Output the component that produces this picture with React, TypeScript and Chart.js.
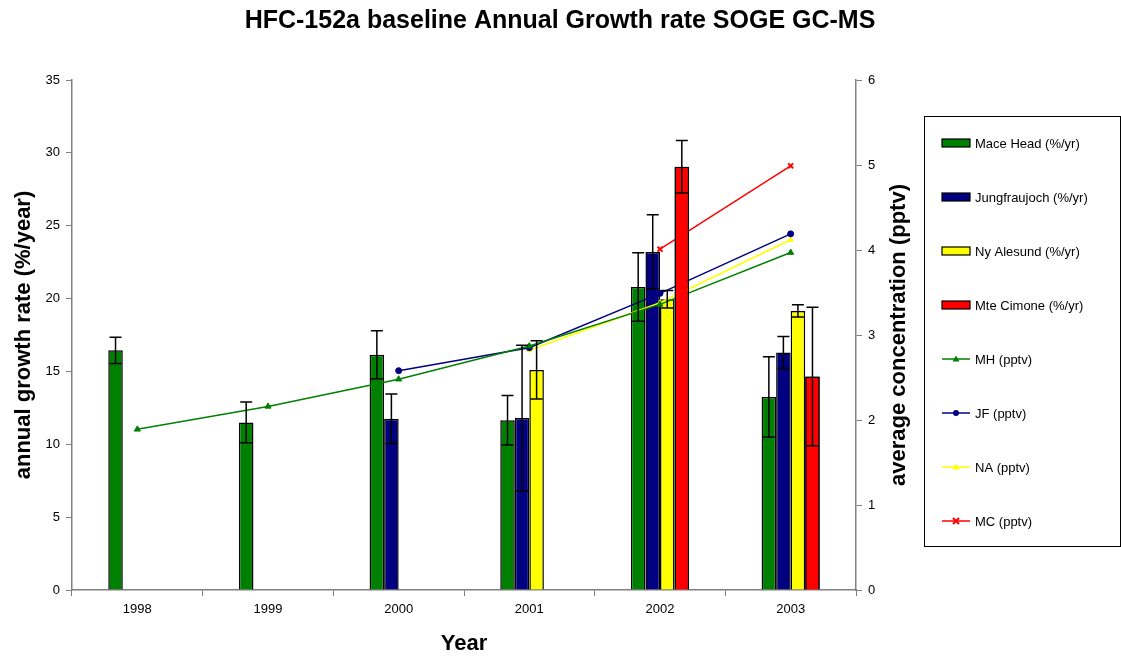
import React, { useEffect, useRef } from "react";
import { Chart, registerables } from "chart.js";

Chart.register(...registerables);

const years = ["1998", "1999", "2000", "2001", "2002", "2003"];

const maceHead = [16.45, 11.5, 16.15, 11.65, 20.8, 13.25];
const maceHeadErr = [0.9, 1.4, 1.65, 1.7, 2.35, 2.75];
const jungfraujoch = [null, null, 11.75, 11.8, 23.2, 16.3];
const jungfraujochErr = [null, null, 1.7, 5.0, 2.55, 1.1];
const nyAlesund = [null, null, null, 15.1, 19.95, 19.15];
const nyAlesundErr = [null, null, null, 2.0, 0.6, 0.42];
const mteCimone = [null, null, null, null, 29.05, 14.65];
const mteCimoneErr = [null, null, null, null, 1.8, 4.75];

const mhPptv = [1.89, 2.16, 2.48, 2.87, 3.36, 3.97];
const jfPptv = [null, null, 2.58, 2.85, 3.49, 4.19];
const naPptv = [null, null, null, 2.82, 3.38, 4.12];
const mcPptv = [null, null, null, null, 4.01, 4.99];

const errors = [maceHeadErr, jungfraujochErr, nyAlesundErr, mteCimoneErr];

const FONT = "'Liberation Sans', Arial, sans-serif";

const errorBarPlugin = {
  id: "errorBars",
  afterDatasetsDraw(chart: any) {
    const ctx = chart.ctx;
    const y = chart.scales.y;
    // Mte Cimone bars sit above the lines, as in the original
    const mcMeta = chart.getDatasetMeta(3);
    ctx.save();
    mcMeta.data.forEach((el: any, j: number) => {
      if (chart.data.datasets[3].data[j] != null) el.draw(ctx, chart.chartArea);
    });
    ctx.restore();
    ctx.save();
    ctx.strokeStyle = "#000";
    ctx.lineWidth = 1.5;
    errors.forEach((errs, di) => {
      const meta = chart.getDatasetMeta(di);
      const vals = chart.data.datasets[di].data;
      meta.data.forEach((el: any, j: number) => {
        const v = vals[j];
        const e = errs[j];
        if (v == null || e == null) return;
        const x = el.x;
        const yt = y.getPixelForValue(v + e);
        const yb = y.getPixelForValue(v - e);
        ctx.beginPath();
        ctx.moveTo(x, yt);
        ctx.lineTo(x, yb);
        ctx.moveTo(x - 6, yt);
        ctx.lineTo(x + 6, yt);
        ctx.moveTo(x - 6, yb);
        ctx.lineTo(x + 6, yb);
        ctx.stroke();
      });
    });
    ctx.restore();
  },
};

const textPlugin = {
  id: "texts",
  afterDraw(chart: any) {
    const ctx = chart.ctx;
    ctx.save();
    ctx.fillStyle = "#000";
    ctx.textAlign = "center";
    ctx.textBaseline = "middle";
    ctx.font = `bold 25px ${FONT}`;
    ctx.fillText("HFC-152a baseline Annual Growth rate SOGE GC-MS", 560, 21);
    ctx.font = `bold 22px ${FONT}`;
    ctx.fillText("Year", 464, 644);
    ctx.save();
    ctx.translate(24, 335);
    ctx.rotate(-Math.PI / 2);
    ctx.fillText("annual growth rate (%/year)", 0, 0);
    ctx.restore();
    ctx.save();
    ctx.translate(899, 335);
    ctx.rotate(-Math.PI / 2);
    ctx.fillText("average concentration (pptv)", 0, 0);
    ctx.restore();

    // legend
    const lx = 924.5, ly = 116.5, lw = 196, lh = 430;
    ctx.lineWidth = 1;
    ctx.strokeStyle = "#000";
    ctx.strokeRect(lx, ly, lw, lh);
    ctx.font = `13px ${FONT}`;
    ctx.textAlign = "left";
    chart.data.datasets.forEach((ds: any, i: number) => {
      const cy = 143 + i * 54;
      if (ds.type === "bar") {
        ctx.fillStyle = ds.backgroundColor;
        ctx.fillRect(942, cy - 4, 28, 8);
        ctx.lineWidth = 1.2;
        ctx.strokeStyle = "#000";
        ctx.strokeRect(942, cy - 4, 28, 8);
      } else {
        ctx.strokeStyle = ds.borderColor;
        ctx.lineWidth = 1.5;
        ctx.beginPath();
        ctx.moveTo(942, cy);
        ctx.lineTo(970, cy);
        ctx.stroke();
        ctx.fillStyle = ds.pointBackgroundColor;
        ctx.strokeStyle = ds.pointBorderColor;
        const st = ds.pointStyle;
        ctx.beginPath();
        if (st === "triangle") {
          ctx.moveTo(956, cy - 3.5);
          ctx.lineTo(959.5, cy + 2.5);
          ctx.lineTo(952.5, cy + 2.5);
          ctx.closePath();
          ctx.fill();
        } else if (st === "circle") {
          ctx.arc(956, cy, 3, 0, Math.PI * 2);
          ctx.fill();
        } else {
          ctx.lineWidth = 2;
          ctx.moveTo(953, cy - 3);
          ctx.lineTo(959, cy + 3);
          ctx.moveTo(959, cy - 3);
          ctx.lineTo(953, cy + 3);
          ctx.stroke();
        }
      }
      ctx.fillStyle = "#000";
      ctx.fillText(ds.label, 975, cy + 1);
    });
    ctx.restore();
  },
};

export default function App() {
  const ref = useRef<HTMLCanvasElement | null>(null);

  useEffect(() => {
    if (!ref.current) return;
    const bar = (label: string, data: any[], color: string) => ({
      type: "bar" as const,
      label,
      data,
      backgroundColor: color,
      borderColor: "#000",
      borderWidth: 1.5,
      yAxisID: "y",
      order: 2,
      categoryPercentage: 0.445,
      barPercentage: 1,
    });
    const line = (label: string, data: any[], color: string, style: string, r: number) => ({
      type: "line" as const,
      label,
      data,
      borderColor: color,
      backgroundColor: color,
      pointBackgroundColor: color,
      pointBorderColor: color,
      pointStyle: style,
      pointRadius: r,
      pointBorderWidth: style === "crossRot" ? 2 : 1,
      borderWidth: 1.5,
      yAxisID: "y1",
      order: 1,
    });
    const chart = new Chart(ref.current, {
      data: {
        labels: years,
        datasets: [
          bar("Mace Head (%/yr)", maceHead, "#008000"),
          bar("Jungfraujoch (%/yr)", jungfraujoch, "#000080"),
          bar("Ny Alesund (%/yr)", nyAlesund, "#FFFF00"),
          bar("Mte Cimone (%/yr)", mteCimone, "#FF0000"),
          line("MH (pptv)", mhPptv, "#008000", "triangle", 3.5),
          line("JF (pptv)", jfPptv, "#000080", "circle", 3),
          line("NA (pptv)", naPptv, "#FFFF00", "triangle", 3),
          line("MC (pptv)", mcPptv, "#FF0000", "crossRot", 3.5),
        ] as any,
      },
      options: {
        responsive: false,
        animation: false,
        layout: { padding: { left: 0, right: 0, top: 80, bottom: 0 } },
        plugins: {
          legend: { display: false },
          tooltip: { enabled: false },
          title: { display: false },
        },
        scales: {
          x: {
            offset: true,
            grid: { display: true, drawOnChartArea: false, offset: true, tickLength: 6, color: "#808080" },
            border: { color: "#808080", width: 1.5 },
            ticks: { color: "#000", font: { family: FONT, size: 13 }, padding: 6, maxRotation: 0 },
            afterFit: (s: any) => { s.height = 67; },
          },
          y: {
            position: "left",
            min: 0,
            max: 35,
            grid: { display: true, drawOnChartArea: false, tickLength: 6, color: "#808080" },
            border: { color: "#808080", width: 1.5 },
            ticks: { stepSize: 5, color: "#000", font: { family: FONT, size: 13 }, padding: 6 },
            afterFit: (s: any) => { s.width = 72; },
          },
          y1: {
            position: "right",
            min: 0,
            max: 6,
            grid: { display: true, drawOnChartArea: false, tickLength: 6, color: "#808080" },
            border: { color: "#808080", width: 1.5 },
            ticks: { stepSize: 1, color: "#000", font: { family: FONT, size: 13 }, padding: 6 },
            afterFit: (s: any) => { s.width = 265; },
          },
        },
      } as any,
      plugins: [errorBarPlugin, textPlugin],
    });
    return () => chart.destroy();
  }, []);

  return (
    <div style={{ position: "absolute", left: 0, top: 0, width: 1121, height: 657, background: "#fff" }}>
      <canvas ref={ref} width={1121} height={657} style={{ width: 1121, height: 657 }} />
    </div>
  );
}
